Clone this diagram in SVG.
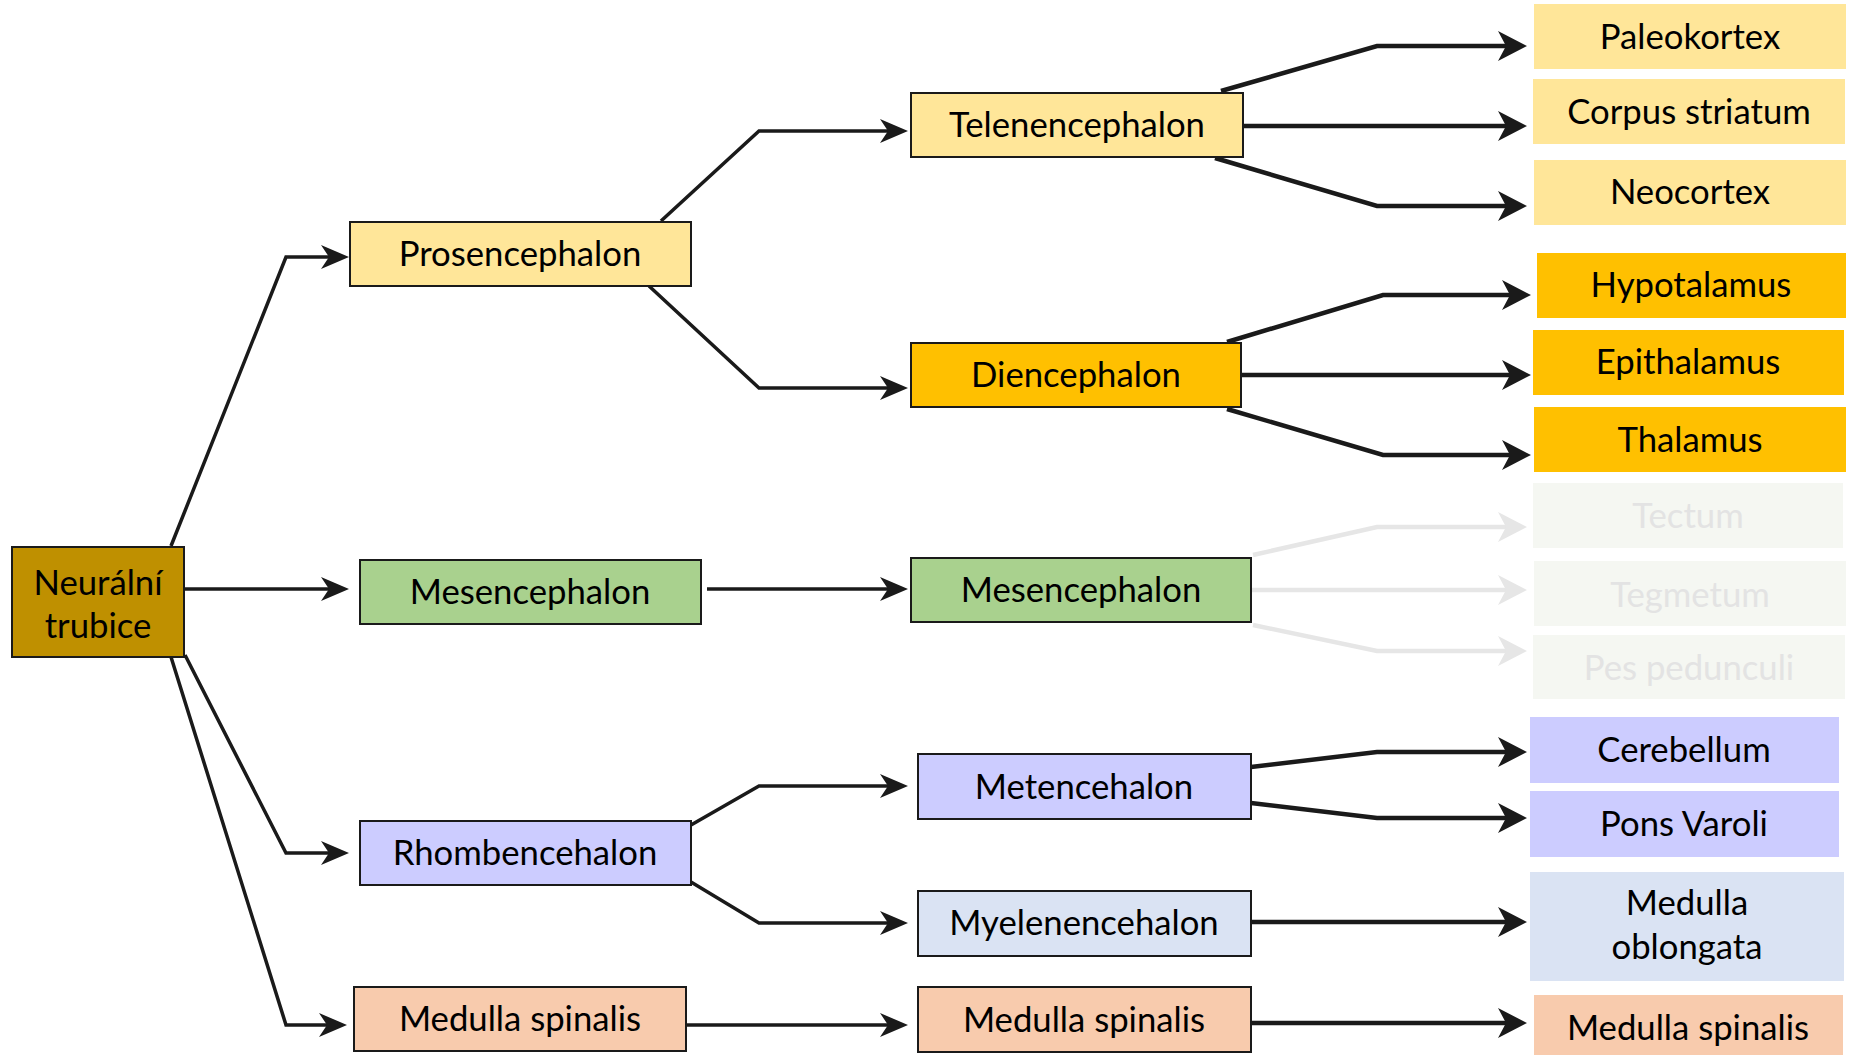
<svg xmlns="http://www.w3.org/2000/svg" width="1850" height="1055" viewBox="0 0 1850 1055">
<style>
text{font-family:Lato,"Liberation Sans",sans-serif;font-size:34.7px;fill:#000;text-anchor:middle;dominant-baseline:central}
.b{stroke:#1a1a1a;stroke-width:2}
.yl{fill:#FFE699}.or{fill:#FFC000}.gr{fill:#A9D18E}.vi{fill:#CCCCFF}.bl{fill:#DAE3F3}.pk{fill:#F8CBAD}.fd{fill:#F5F7F2}
text.ft{fill:#E3E3E3}
.c{fill:none;stroke:#1a1a1a;stroke-width:3.5}
.cr{fill:none;stroke:#1a1a1a;stroke-width:4.5}
.cf{fill:none;stroke:#E6E6E6;stroke-width:4.5}
</style>
<defs>
<marker id="a" markerUnits="userSpaceOnUse" markerWidth="30" markerHeight="26" refX="18" refY="13" orient="auto"><path d="M0,1 L28,13 L0,25 L8,13 Z" fill="#1a1a1a"/></marker>
<marker id="ar" markerUnits="userSpaceOnUse" markerWidth="31" markerHeight="32" refX="19" refY="16" orient="auto"><path d="M0,1 L29,16 L0,31 L8,16 Z" fill="#1a1a1a"/></marker>
<marker id="af" markerUnits="userSpaceOnUse" markerWidth="31" markerHeight="32" refX="19" refY="16" orient="auto"><path d="M0,1 L29,16 L0,31 L8,16 Z" fill="#E6E6E6"/></marker>
</defs>
<rect width="1850" height="1055" fill="#fff"/>
<g id="connectors">
<path class="c" marker-end="url(#a)" d="M171,546 L286,257 L339,257"/>
<path class="c" marker-end="url(#a)" d="M185,589 L339,589"/>
<path class="c" marker-end="url(#a)" d="M185,655 L286,853 L339,853"/>
<path class="c" marker-end="url(#a)" d="M171,657 L286,1025 L337,1025"/>
<path class="c" marker-end="url(#a)" d="M661,221 L759,131 L898,131"/>
<path class="c" marker-end="url(#a)" d="M649,286 L759,388 L898,388"/>
<path class="c" marker-end="url(#a)" d="M707,589 L898,589"/>
<path class="c" marker-end="url(#a)" d="M691,825 L759,786 L898,786"/>
<path class="c" marker-end="url(#a)" d="M691,882 L759,923 L898,923"/>
<path class="c" marker-end="url(#a)" d="M686,1025 L898,1025"/>
<path class="cr" marker-end="url(#ar)" d="M1221,91 L1377,46 L1517,46"/>
<path class="cr" marker-end="url(#ar)" d="M1243,126 L1517,126"/>
<path class="cr" marker-end="url(#ar)" d="M1215,158 L1377,206 L1517,206"/>
<path class="cr" marker-end="url(#ar)" d="M1227,342 L1383,295 L1521,295"/>
<path class="cr" marker-end="url(#ar)" d="M1241,375 L1521,375"/>
<path class="cr" marker-end="url(#ar)" d="M1227,409 L1383,455 L1521,455"/>
<path class="cf" marker-end="url(#af)" d="M1253,555 L1377,527 L1517,527"/>
<path class="cf" marker-end="url(#af)" d="M1251,590 L1517,590"/>
<path class="cf" marker-end="url(#af)" d="M1253,625 L1377,651 L1517,651"/>
<path class="cr" marker-end="url(#ar)" d="M1251,767 L1377,752 L1517,752"/>
<path class="cr" marker-end="url(#ar)" d="M1251,803 L1377,818 L1517,818"/>
<path class="cr" marker-end="url(#ar)" d="M1251,922 L1517,922"/>
<path class="cr" marker-end="url(#ar)" d="M1251,1023 L1517,1023"/>
</g>
<g id="n-trubice"><rect class="b" x="12" y="547" width="172" height="110" fill="#BF9000"/><text x="98" y="581">Neurální</text><text x="98" y="624">trubice</text></g>
<g id="n-prosen"><rect class="b yl" x="350" y="222" width="341" height="64"/><text x="520" y="252.5">Prosencephalon</text></g>
<g id="n-mesen1"><rect class="b gr" x="360" y="560" width="341" height="64"/><text x="530" y="590.5">Mesencephalon</text></g>
<g id="n-rhomb"><rect class="b vi" x="360" y="821" width="331" height="64"/><text x="525" y="851.5">Rhombencehalon</text></g>
<g id="n-medsp1"><rect class="b pk" x="354" y="987" width="332" height="64"/><text x="520" y="1017.5">Medulla spinalis</text></g>
<g id="n-telen"><rect class="b yl" x="911" y="93" width="332" height="64"/><text x="1077" y="123.5">Telenencephalon</text></g>
<g id="n-dien"><rect class="b or" x="911" y="343" width="330" height="64"/><text x="1076" y="373.5">Diencephalon</text></g>
<g id="n-mesen2"><rect class="b gr" x="911" y="558" width="340" height="64"/><text x="1081" y="588.5">Mesencephalon</text></g>
<g id="n-meten"><rect class="b vi" x="918" y="754" width="333" height="65"/><text x="1084" y="785.5">Metencehalon</text></g>
<g id="n-myelen"><rect class="b bl" x="918" y="891" width="333" height="65"/><text x="1084" y="921.5">Myelenencehalon</text></g>
<g id="n-medsp2"><rect class="b pk" x="918" y="987" width="333" height="65"/><text x="1084" y="1018.5">Medulla spinalis</text></g>
<g id="n-paleo"><rect class="yl" x="1534" y="4" width="312" height="65"/><text x="1690" y="35.5">Paleokortex</text></g>
<g id="n-corpus"><rect class="yl" x="1533" y="79" width="312" height="65"/><text x="1689" y="110.5">Corpus striatum</text></g>
<g id="n-neo"><rect class="yl" x="1534" y="160" width="312" height="65"/><text x="1690" y="190.5">Neocortex</text></g>
<g id="n-hypo"><rect class="or" x="1537" y="253" width="309" height="65"/><text x="1691" y="283.5">Hypotalamus</text></g>
<g id="n-epi"><rect class="or" x="1533" y="330" width="311" height="65"/><text x="1688" y="360.5">Epithalamus</text></g>
<g id="n-thal"><rect class="or" x="1534" y="407" width="312" height="65"/><text x="1690" y="438.5">Thalamus</text></g>
<g id="n-tectum"><rect class="fd" x="1533" y="483" width="310" height="65"/><text class="ft" x="1688" y="514.5">Tectum</text></g>
<g id="n-tegm"><rect class="fd" x="1534" y="561" width="312" height="65"/><text class="ft" x="1690" y="593.5">Tegmetum</text></g>
<g id="n-pes"><rect class="fd" x="1533" y="635" width="312" height="64"/><text class="ft" x="1689" y="666.5">Pes pedunculi</text></g>
<g id="n-cereb"><rect class="vi" x="1530" y="717" width="309" height="66"/><text x="1684" y="748.5">Cerebellum</text></g>
<g id="n-pons"><rect class="vi" x="1530" y="791" width="309" height="66"/><text x="1684" y="822.5">Pons Varoli</text></g>
<g id="n-oblong"><rect class="bl" x="1530" y="872" width="314" height="109"/><text x="1687" y="901.5">Medulla</text><text x="1687" y="945.5">oblongata</text></g>
<g id="n-medsp3"><rect class="pk" x="1534" y="995" width="309" height="62"/><text x="1688" y="1026.5">Medulla spinalis</text></g>
</svg>
